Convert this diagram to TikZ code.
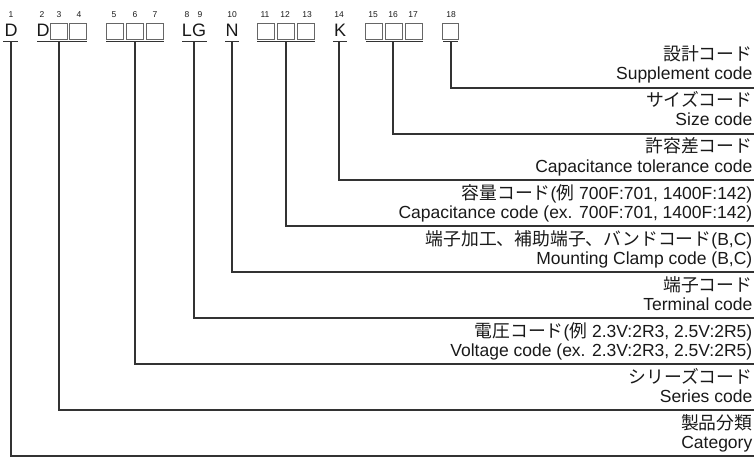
\documentclass[tikz,border=0pt]{standalone}
\usepackage{fontspec}
\setmainfont{Liberation Sans}
\newfontfamily\jpfont{Noto Sans CJK JP}
\newcommand\jtxt[1]{{\jpfont\fontsize{17.8}{17.8}\selectfont #1}}
\begin{document}
\begin{tikzpicture}[x=1pt,y=-1pt,
  ln/.style={draw=black!80, line width=1.4pt},
  bx/.style={draw=black!60, line width=0.9pt, minimum width=16.5pt, minimum height=16pt, inner sep=0pt},
  ch/.style={font=\fontsize{18}{18}\selectfont, inner sep=0pt, anchor=base, text=black!90},
  num/.style={font=\fontsize{8.5}{8.5}\selectfont, inner sep=0pt, anchor=base, text=black!90},
  jl/.style={font=\fontsize{17.5}{17.5}\selectfont, anchor=base east, inner sep=0pt, text=black!90},
  el/.style={font=\fontsize{17.5}{17.5}\selectfont, anchor=base east, inner sep=0pt, text=black!90},
]
\useasboundingbox (0,0) rectangle (754,457);
% position numbers
\foreach \n/\x in {1/11,2/42,3/59,4/79,5/114,6/135,7/155,8/187,9/200,10/232,11/265,12/285,13/307,14/339,15/373,16/393,17/413,18/451}
  \node[num] (n\n) at (\x,17.5) {\n};
% code characters
\node[ch] (c1) at (11,37) {D};
\node[ch] (c2) at (43,37) {D};
\node[ch] (c89) at (194,37) {LG};
\node[ch] (c10) at (232,37) {N};
\node[ch] (c14) at (340,37) {K};
% boxes
\foreach \n/\x in {3/59,4/78,5/115,6/135,7/155,11/266,12/286,13/306,15/374,16/394,17/414,18/450.5}
  \node[bx] (b\n) at (\x,31) {};
% underlines
\foreach \g/\a/\b in {A/3/18,B/37/87,C/106/164,D/182/207,N/225/239,E/257/315,K/333/347,F/366/423,G/443/458}
  \draw[ln] (\a,41.5) coordinate (u\g l) -- (\b,41.5) coordinate (u\g r);
% connector tops and line ends
\foreach \g/\x/\y in {A/11/456,B/59/410,C/135/364,D/194/318,N/232/272,E/286/226,K/339/180,F/393/134,G/451/88}{
  \coordinate (t\g) at (\x,41.5);
  \coordinate (e\g) at (754,\y);
  \draw[ln] (t\g) |- (e\g);
}
% labels
\node[jl] (jG) at (752.5,61) {\jtxt{設計コード}};
\node[el] (lG) at (752.5,80) {Supplement code};
\node[jl] (jF) at (752.5,107) {\jtxt{サイズコード}};
\node[el] (lF) at (752.5,126) {Size code};
\node[jl] (jK) at (752.5,153) {\jtxt{許容差コード}};
\node[el] (lK) at (752.5,172) {Capacitance tolerance code};
\node[jl] (jE) at (752.5,199) {\jtxt{容量コード}(\jtxt{例} 700F:701, 1400F:142)};
\node[el] (lE) at (752.5,218) {Capacitance code (ex. 700F:701, 1400F:142)};
\node[jl] (jN) at (752.5,245) {\jtxt{端子加工、補助端子、バンドコード}(B,C)};
\node[el] (lN) at (752.5,264) {Mounting Clamp code (B,C)};
\node[jl] (jD) at (752.5,291) {\jtxt{端子コード}};
\node[el] (lD) at (752.5,310) {Terminal code};
\node[jl] (jC) at (752.5,337) {\jtxt{電圧コード}(\jtxt{例} 2.3V:2R3, 2.5V:2R5)};
\node[el] (lC) at (752.5,356) {Voltage code (ex. 2.3V:2R3, 2.5V:2R5)};
\node[jl] (jB) at (752.5,383) {\jtxt{シリーズコード}};
\node[el] (lB) at (752.5,402) {Series code};
\node[jl] (jA) at (752.5,429) {\jtxt{製品分類}};
\node[el] (lA) at (752.5,448) {Category};
\end{tikzpicture}
\end{document}
